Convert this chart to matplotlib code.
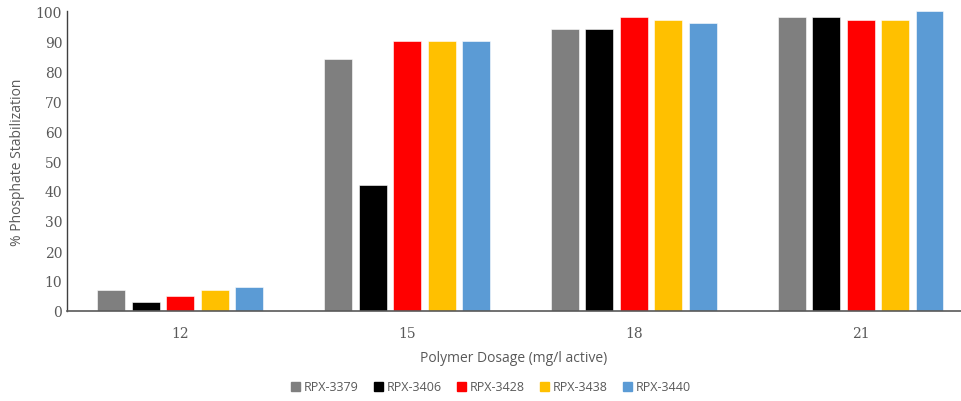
import numpy as np
import matplotlib.pyplot as plt
from matplotlib.patches import Patch

dosages = ['12', '15', '18', '21']
series = ['RPX-3379', 'RPX-3406', 'RPX-3428', 'RPX-3438', 'RPX-3440']
values = [
    [7, 84, 94, 98],
    [3, 42, 94, 98],
    [5, 90, 98, 97],
    [7, 90, 97, 97],
    [8, 90, 96, 100],
]
colors = ['#7f7f7f', '#000000', '#ff0000', '#ffc000', '#5b9bd5']

txt = '#595959'
fig = plt.figure(figsize=(9.61, 4.02), dpi=100)
ax = fig.add_axes([67/961, 90/402, 1 - 67/961, 300/402])

x = np.arange(len(dosages))
pitch = 0.152
width = 0.123
for i, (name, vals) in enumerate(zip(series, values)):
    ax.bar(x + (i - 2) * pitch, vals, width, color=colors[i],
           edgecolor='white', linewidth=0.4, label=name)

ax.set_xlim(-0.5, (961 - 179.5) / 227)
ax.set_ylim(0, 100)
ax.set_yticks(range(0, 101, 10))
ax.set_xticks(x)
ax.set_xticklabels(dosages)

for s in ['top', 'right']:
    ax.spines[s].set_visible(False)
ax.spines['left'].set_color('#404040')
ax.spines['bottom'].set_color('#595959')
ax.spines['left'].set_linewidth(1.0)
ax.spines['bottom'].set_linewidth(1.2)
ax.tick_params(axis='both', length=0, colors=txt, labelsize=10)
ax.tick_params(axis='x', pad=11)
for lbl in ax.get_xticklabels() + ax.get_yticklabels():
    lbl.set_family('DejaVu Serif')

ax.set_xlabel('Polymer Dosage (mg/l active)', family='Open Sans', fontsize=10,
              color=txt, labelpad=7)
ax.set_ylabel('% Phosphate Stabilization', family='Open Sans', fontsize=10,
              color=txt, labelpad=8)

handles = [Patch(color=c, label=n) for c, n in zip(colors, series)]
leg = fig.legend(handles=handles, loc='center', bbox_to_anchor=(491/961, 1 - 388/402),
                 ncol=5, frameon=False, prop={'family': 'Open Sans', 'size': 9},
                 handlelength=0.7, handleheight=0.7, handletextpad=0.3,
                 columnspacing=1.25)
for t in leg.get_texts():
    t.set_color(txt)

fig.savefig('out.png', dpi=100)
